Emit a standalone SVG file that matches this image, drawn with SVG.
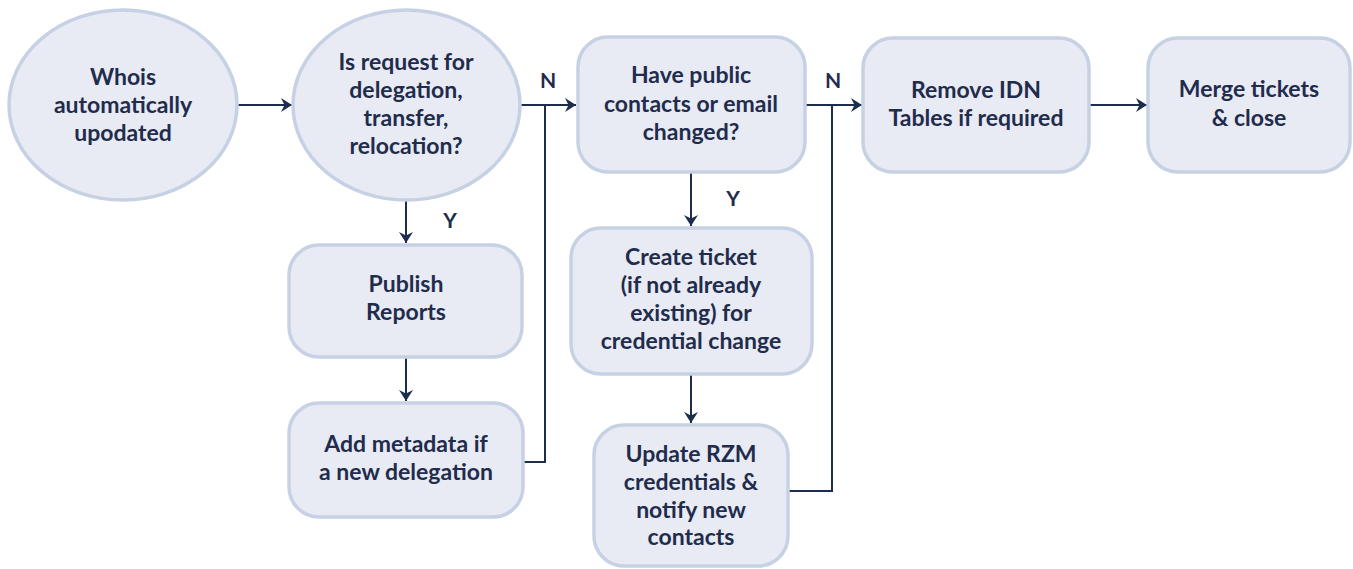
<svg xmlns="http://www.w3.org/2000/svg" width="1353" height="569" viewBox="0 0 1353 569">
  <defs>
    <marker id="arr" markerUnits="userSpaceOnUse" markerWidth="12" markerHeight="14" refX="11" refY="7" orient="auto">
      <path d="M0,0 L11,7 L0,14 L3.5,7 Z" fill="#1c2d4e"/>
    </marker>
  </defs>
  <style>
    .shape { fill: #e8eaf4; stroke: #c6d1e4; stroke-width: 3.5; }
    .t { font-family: Lato, "Open Sans", sans-serif; font-weight: bold; font-size: 23px; fill: #1f2c4c; text-anchor: middle; }
    .lbl { font-family: Lato, "Open Sans", sans-serif; font-weight: bold; font-size: 21px; fill: #1f2c4c; text-anchor: middle; }
    .c { fill: none; stroke: #1c2d4e; stroke-width: 2; }
  </style>
  <rect width="1353" height="569" fill="#ffffff"/>

  <g id="connectors">
    <line class="c" x1="237" y1="105" x2="292" y2="105" marker-end="url(#arr)"/>
    <line class="c" x1="520" y1="105" x2="576" y2="105" marker-end="url(#arr)"/>
    <polyline class="c" points="523,462 545,462 545,105"/>
    <line class="c" x1="406" y1="200" x2="406" y2="243" marker-end="url(#arr)"/>
    <line class="c" x1="406" y1="357" x2="406" y2="401" marker-end="url(#arr)"/>
    <line class="c" x1="691" y1="172" x2="691" y2="226" marker-end="url(#arr)"/>
    <line class="c" x1="691" y1="374" x2="691" y2="423" marker-end="url(#arr)"/>
    <line class="c" x1="805" y1="105" x2="862" y2="105" marker-end="url(#arr)"/>
    <polyline class="c" points="788,491 832,491 832,105"/>
    <line class="c" x1="1089" y1="105" x2="1147" y2="105" marker-end="url(#arr)"/>
    <text class="lbl" x="548" y="88">N</text>
    <text class="lbl" x="833" y="88">N</text>
    <text class="lbl" x="450" y="228">Y</text>
    <text class="lbl" x="733" y="206">Y</text>
  </g>

  <g id="whois">
    <ellipse class="shape" cx="123" cy="105" rx="114" ry="95"/>
    <text class="t" x="123" y="85">Whois</text>
    <text class="t" x="123" y="113">automatically</text>
    <text class="t" x="123" y="141">upodated</text>
  </g>

  <g id="request">
    <ellipse class="shape" cx="406.5" cy="105" rx="113.5" ry="95"/>
    <text class="t" x="406" y="70">Is request for</text>
    <text class="t" x="406" y="98">delegation,</text>
    <text class="t" x="406" y="126">transfer,</text>
    <text class="t" x="406" y="154">relocation?</text>
  </g>

  <g id="publish">
    <rect class="shape" x="289" y="245" width="233" height="112" rx="30"/>
    <text class="t" x="406" y="292">Publish</text>
    <text class="t" x="406" y="320">Reports</text>
  </g>

  <g id="metadata">
    <rect class="shape" x="289" y="403" width="234" height="114" rx="30"/>
    <text class="t" x="406" y="452">Add metadata if</text>
    <text class="t" x="406" y="480">a new delegation</text>
  </g>

  <g id="contacts">
    <rect class="shape" x="578" y="37" width="227" height="135" rx="30"/>
    <text class="t" x="691" y="83">Have public</text>
    <text class="t" x="691" y="112">contacts or email</text>
    <text class="t" x="691" y="140">changed?</text>
  </g>

  <g id="ticket">
    <rect class="shape" x="571" y="228" width="241" height="146" rx="30"/>
    <text class="t" x="691" y="265">Create ticket</text>
    <text class="t" x="691" y="293">(if not already</text>
    <text class="t" x="691" y="321">existing) for</text>
    <text class="t" x="691" y="349">credential change</text>
  </g>

  <g id="rzm">
    <rect class="shape" x="594" y="425" width="194" height="141" rx="30"/>
    <text class="t" x="691" y="462">Update RZM</text>
    <text class="t" x="691" y="490">credentials &amp;</text>
    <text class="t" x="691" y="518">notify new</text>
    <text class="t" x="691" y="545">contacts</text>
  </g>

  <g id="idn">
    <rect class="shape" x="863" y="38" width="226" height="134" rx="30"/>
    <text class="t" x="976" y="98">Remove IDN</text>
    <text class="t" x="976" y="126">Tables if required</text>
  </g>

  <g id="merge">
    <rect class="shape" x="1148" y="38" width="202" height="134" rx="30"/>
    <text class="t" x="1249" y="97">Merge tickets</text>
    <text class="t" x="1249" y="126">&amp; close</text>
  </g>
</svg>
